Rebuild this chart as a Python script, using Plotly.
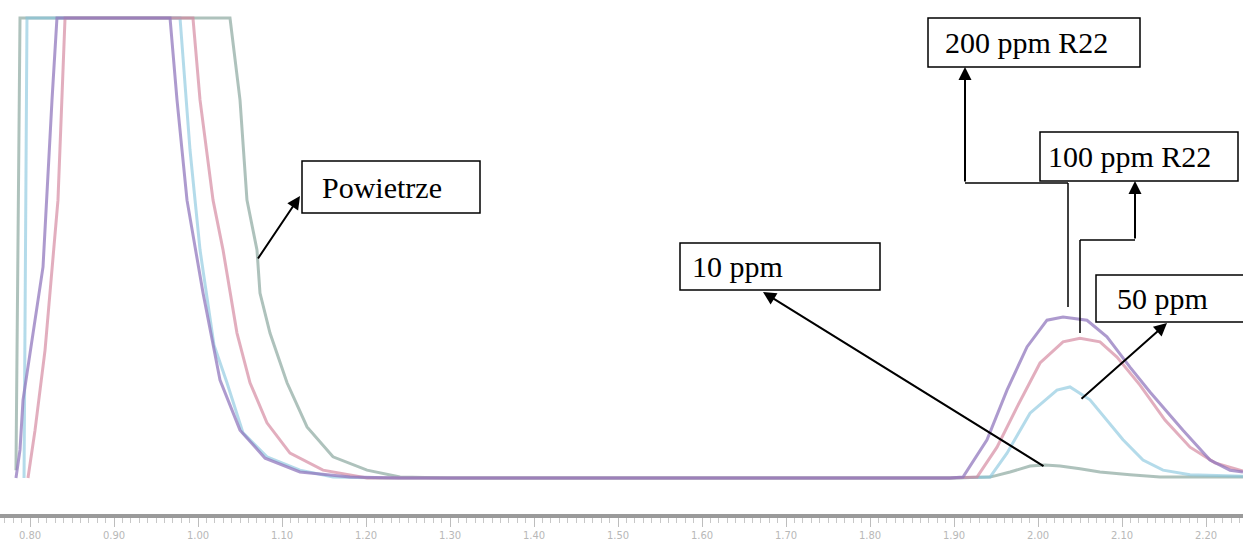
import plotly.graph_objects as go

# ---- data (time in min, detector signal, clipped at 100) ----
t_200 = [0.7833, 0.7881, 0.7917, 0.8036, 0.8155, 0.8262, 0.8321, 0.9667, 0.9750, 0.9869, 1.0060,
         1.0262, 1.0500, 1.0798, 1.1214, 1.1810, 1.2405, 1.8952, 1.9107, 1.9393, 1.9631, 1.9869,
         2.0107, 2.0298, 2.0583, 2.0821, 2.1095, 2.1333, 2.1726, 2.2048, 2.2286, 2.2440]
s_200 = [0.0, 6.1, 17.0, 31.5, 45.9, 82.2, 100, 100, 82.2, 60.4, 40.2,
         21.3, 10.4, 4.3, 1.3, 0.2, 0.0, 0.0, 0.2, 8.3, 19.1, 28.5,
         34.3, 35.0, 34.3, 30.7, 24.1, 18.7, 10.4, 3.9, 1.7, 1.3]

t_100 = [0.7976, 0.8060, 0.8179, 0.8333, 0.8417, 0.9940, 1.0024, 1.0179, 1.0298, 1.0381, 1.0464,
         1.0619, 1.0821, 1.1095, 1.1488, 1.2012, 1.8952, 1.9274, 1.9512, 1.9750, 2.0024, 2.0298,
         2.0500, 2.0738, 2.0940, 2.1214, 2.1512, 2.1810, 2.2107, 2.2440]
s_100 = [0.0, 10.4, 27.8, 60.4, 100, 100, 82.2, 60.4, 49.6, 40.2, 31.5,
         20.7, 12.0, 5.4, 1.7, 0.0, 0.0, 0.2, 6.7, 15.4, 25.0, 29.6,
         30.4, 29.6, 26.3, 20.2, 12.6, 6.7, 3.3, 1.5]

t_50 = [0.7929, 0.7964, 0.9786, 0.9905, 1.0024, 1.0107, 1.0190, 1.0345, 1.0536, 1.0821, 1.1214,
        1.1607, 1.2167, 1.8952, 1.9429, 1.9631, 1.9905, 2.0226, 2.0381, 2.0619, 2.0821, 2.1012,
        2.1250, 2.1488, 2.1810, 2.2440]
s_50 = [0.0, 100, 100, 71.3, 49.6, 38.7, 28.9, 20.7, 9.8, 4.6, 1.7,
        0.2, 0.0, 0.0, 0.2, 5.4, 14.1, 19.1, 19.8, 17.0, 12.6, 8.3,
        3.9, 1.7, 0.7, 0.4]

t_10 = [0.7833, 0.7857, 0.7881, 1.0381, 1.0500, 1.0583, 1.0702, 1.0738, 1.0857, 1.1060, 1.1298,
        1.1607, 1.2012, 1.2405, 1.3000, 1.8952, 1.9429, 1.9667, 1.9905, 2.0083, 2.0262, 2.0500,
        2.0738, 2.1095, 2.1452, 2.2440]
s_10 = [1.7, 60.4, 100, 100, 82.2, 60.4, 49.6, 40.2, 31.5, 20.7, 11.1,
        4.6, 1.7, 0.2, 0.0, 0.0, 0.2, 1.3, 2.6, 2.8, 2.6, 2.0,
        1.3, 0.7, 0.2, 0.2]

tick_vals = [0.80, 0.90, 1.00, 1.10, 1.20, 1.30, 1.40, 1.50, 1.60, 1.70, 1.80, 1.90, 2.00, 2.10, 2.20]
tick_text = ["0.80", "0.90", "1.00", "1.10", "1.20", "1.30", "1.40", "1.50", "1.60", "1.70",
             "1.80", "1.90", "2.00", "2.10", "2.20"]

W, H = 1243, 551
B = 37
PH = H - B

def px(x):
    return x / W

def py(y):
    return 1 - y / PH

fig = go.Figure()
series = [
    (t_10, s_10, "rgba(140,168,160,0.7)", "10 ppm"),
    (t_50, s_50, "rgba(130,195,220,0.6)", "50 ppm"),
    (t_100, s_100, "rgba(210,130,155,0.65)", "100 ppm"),
    (t_200, s_200, "rgba(145,120,190,0.75)", "200 ppm"),
]
for tx, sy, col, nm in series:
    fig.add_trace(go.Scatter(x=tx, y=sy, mode="lines", name=nm,
                             line=dict(color=col, width=3), hoverinfo="skip"))

shapes = []
annos = []
font = dict(family="Liberation Serif, Times New Roman, serif", size=30, color="black")

def box(x0, y0, x1, y1, text, tx):
    shapes.append(dict(type="rect", xref="paper", yref="paper",
                       x0=px(x0), x1=px(x1), y0=py(y1), y1=py(y0),
                       line=dict(color="black", width=1.5), fillcolor="white", layer="above"))
    annos.append(dict(xref="paper", yref="paper", x=px(tx), y=py((y0 + y1) / 2),
                      xanchor="left", yanchor="middle", text=text, showarrow=False, font=font))

def arrow(hx, hy, tx, ty):
    annos.append(dict(xref="paper", yref="paper", x=px(hx), y=py(hy), ax=tx - hx, ay=ty - hy,
                      text="", showarrow=True, arrowhead=2, arrowsize=1.3, arrowwidth=2,
                      arrowcolor="black"))

def seg(x0, y0, x1, y1, w=1.5):
    shapes.append(dict(type="line", xref="paper", yref="paper",
                       x0=px(x0), y0=py(y0), x1=px(x1), y1=py(y1),
                       line=dict(color="black", width=w)))

box(928, 18, 1140, 67, "200 ppm R22", 943)
box(1040, 132, 1238, 181, "100 ppm R22", 1046)
box(302, 161, 480, 213, "Powietrze", 320)
box(680, 243, 880, 290, "10 ppm", 690)
box(1096, 275, 1250, 322, "50 ppm", 1115)

arrow(300, 196, 257, 260)
arrow(763, 292, 1045, 467)
arrow(1167, 323, 1080, 400)
seg(1068, 307, 1068, 183)
seg(1068, 183, 965, 183)
arrow(965, 67, 965, 183)
seg(1080, 333, 1080, 240)
seg(1080, 240, 1135, 240)
arrow(1135, 181, 1135, 240)

t0 = 0.8 - 30 / 840
t1 = 0.8 + (W - 30) / 840
s_lo = (478 - PH) / 4.6
s_hi = 478 / 4.6

fig.update_layout(
    width=W, height=H,
    margin=dict(l=0, r=0, t=0, b=B),
    paper_bgcolor="white", plot_bgcolor="white",
    showlegend=False,
    shapes=shapes, annotations=annos,
    xaxis=dict(range=[t0, t1], tickvals=tick_vals, ticktext=tick_text,
               showgrid=False, zeroline=False, showline=True, linecolor="#9a9a9a", linewidth=4,
               ticks="outside", ticklen=9, tickwidth=1, tickcolor="#bdbdbd",
               tickfont=dict(family="DejaVu Sans", size=10, color="#b8b8b8"),
               minor=dict(dtick=0.01, tick0=0.8, ticks="outside", ticklen=5, tickcolor="#c8c8c8",
                          tickwidth=1, showgrid=False)),
    yaxis=dict(range=[s_lo, s_hi], visible=False, showgrid=False, zeroline=False),
)

fig.write_html("out.html")
